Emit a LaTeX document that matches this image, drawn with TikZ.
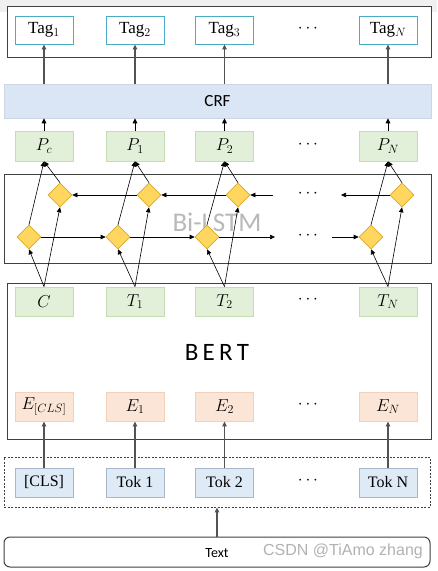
\documentclass[tikz,border=0pt]{standalone}
\usepackage{fontspec}
\setmainfont{Liberation Serif}
\newfontfamily\sansf{Carlito}
\newfontfamily\wmf{Liberation Sans}
\usetikzlibrary{arrows.meta,shapes.geometric}
\definecolor{tagbd}{HTML}{4BACC6}
\definecolor{crffill}{HTML}{DAE6F6}
\definecolor{grnfill}{HTML}{E2F0D9}
\definecolor{grnbd}{HTML}{C5DDB3}
\definecolor{redfill}{HTML}{FBE5D6}
\definecolor{redbd}{HTML}{F2D0BC}
\definecolor{tokfill}{HTML}{DEEBF7}
\definecolor{tokbd}{HTML}{A6B8CA}
\definecolor{dfill}{HTML}{FFD75E}
\definecolor{dbd}{HTML}{D9A82E}
\definecolor{frm}{HTML}{404040}
\begin{document}
\begin{tikzpicture}[x=1pt,y=-1pt,
  cell/.style={minimum width=58pt,inner sep=0pt,line width=0.8pt},
  tagbox/.style={cell,draw=tagbd,fill=white,minimum height=28pt,font=\fontsize{17}{17}\selectfont},
  pbox/.style={cell,draw=grnbd,fill=grnfill,minimum height=30pt,font=\fontsize{17}{17}\selectfont},
  tbox/.style={cell,draw=grnbd,fill=grnfill,minimum height=29pt,font=\fontsize{17}{17}\selectfont},
  ebox/.style={cell,draw=redbd,fill=redfill,minimum height=29pt,font=\fontsize{17}{17}\selectfont},
  tokbox/.style={cell,draw=tokbd,fill=tokfill,minimum height=29pt,font=\fontsize{16}{16}\selectfont},
  frame/.style={draw=frm,line width=1pt,inner sep=0pt},
  dia/.style={diamond,draw=dbd,fill=dfill,minimum width=24pt,minimum height=24pt,inner sep=0pt,line width=0.6pt},
  bigarr/.style={draw=frm!90,line width=1.3pt,-{Triangle[length=5pt,width=4.5pt]}},
  thinarr/.style={draw=black,line width=0.6pt,-{Triangle[length=5pt,width=4.5pt]}},
  dots/.style={font=\fontsize{16}{16}\selectfont}
]
\useasboundingbox (0,0) rectangle (437,571);
\fill[white] (0,0) rectangle (437,571);
\fill[gray!12] (0,0) rectangle (437,12);

% frames
\node[frame,fill=white,minimum width=424pt,minimum height=51pt] (topbox) at (219,31.5) {};
\node[fill=crffill,draw=crffill!85!gray,line width=0.5pt,inner sep=0pt,minimum width=427pt,minimum height=34pt,font=\sansf\fontsize{17}{17}\selectfont] (crf) at (217.5,101) {CRF};
\node[frame,minimum width=427pt,minimum height=89pt] (lstm) at (217.5,218.5) {};
\node[text=gray!55,font=\sansf\fontsize{27}{27}\selectfont] (lstmlab) at (217,222) {Bi-LSTM};
\node[frame,minimum width=424pt,minimum height=156pt] (bert) at (219,361) {};
\node[font=\sansf\fontsize{25}{25}\selectfont] (bertlab) at (217,352) {B\,E\,R\,T};
\node[draw=frm,dashed,dash pattern=on 2pt off 1.5pt,line width=0.9pt,inner sep=0pt,minimum width=426pt,minimum height=50pt] (emb) at (217,482) {};
\node[draw=frm,line width=1pt,rounded corners=6pt,inner sep=0pt,minimum width=426pt,minimum height=30pt] (textbox) at (217,552) {};
\node[font=\sansf\fontsize{14}{14}\selectfont] (textlab) at (217,553) {Text};
\node[text=gray!60,font=\wmf\fontsize{16}{16}\selectfont] (wm) at (343,551) {CSDN @TiAmo zhang};

% Tag row
\node[tagbox] (tag1) at (44,30) {Tag$_1$};
\node[tagbox] (tag2) at (135,30) {Tag$_2$};
\node[tagbox] (tag3) at (224.5,30) {Tag$_3$};
\node[tagbox] (tag4) at (388,30) {Tag$_N$};
\node[dots] (dt) at (308,29) {$\cdots$};

% P row
\node[pbox] (p1) at (44,146) {$P_c$};
\node[pbox] (p2) at (135,146) {$P_1$};
\node[pbox] (p3) at (224.5,146) {$P_2$};
\node[pbox] (p4) at (388,146) {$P_N$};
\node[dots] (dp) at (308,145) {$\cdots$};

% T row
\node[tbox] (t1) at (44,301.5) {$C$};
\node[tbox] (t2) at (135,301.5) {$T_1$};
\node[tbox] (t3) at (224.5,301.5) {$T_2$};
\node[tbox] (t4) at (388,301.5) {$T_N$};
\node[dots] (dtt) at (308,300) {$\cdots$};

% E row
\node[ebox] (e1) at (44,406.5) {$E_{[CLS]}$};
\node[ebox] (e2) at (135,406.5) {$E_1$};
\node[ebox] (e3) at (224.5,406.5) {$E_2$};
\node[ebox] (e4) at (388,406.5) {$E_N$};
\node[dots] (de) at (308,405) {$\cdots$};

% Tok row
\node[tokbox] (k1) at (44,482.5) {[CLS]};
\node[tokbox] (k2) at (135,482.5) {Tok 1};
\node[tokbox] (k3) at (224.5,482.5) {Tok 2};
\node[tokbox] (k4) at (388,482.5) {Tok N};
\node[dots] (dk) at (308,481) {$\cdots$};

% diamonds
\node[dia] (u1) at (60,195) {};
\node[dia] (u2) at (149,195) {};
\node[dia] (u3) at (238,195) {};
\node[dia] (u4) at (402,195) {};
\node[dia] (l1) at (29,237) {};
\node[dia] (l2) at (118,237) {};
\node[dia] (l3) at (207,237) {};
\node[dia] (l4) at (371,237) {};
\node[dots] (du) at (308,194) {$\cdots$};
\node[dots] (dl) at (308,236) {$\cdots$};
\coordinate (ua) at (273,195);
\coordinate (ub) at (341,195);
\coordinate (la) at (275,237);
\coordinate (lb) at (332,237);

% vertical arrows
\foreach \i in {1,2,3,4} {
  \draw[bigarr] (crf.north -| tag\i) -- (tag\i.south);
  \draw[thinarr,line width=0.9pt] (p\i.north) -- (crf.south -| p\i);
  \draw[bigarr] (k\i.north) -- (e\i.south);
  \draw[thinarr] (t\i.north) -- (l\i.south);
  \draw[thinarr] (t\i.north) -- (u\i.south);
  \draw[thinarr] (l\i.north) -- (p\i.south);
  \draw[thinarr] (u\i.north) -- (p\i.south);
}
% horizontal LSTM arrows
\draw[thinarr] (l1.east) -- (l2.west);
\draw[thinarr] (l2.east) -- (l3.west);
\draw[thinarr] (l3.east) -- (la);
\draw[thinarr] (lb) -- (l4.west);
\draw[thinarr] (u2.west) -- (u1.east);
\draw[thinarr] (u3.west) -- (u2.east);
\draw[thinarr] (ua) -- (u3.east);
\draw[thinarr] (u4.west) -- (ub);

% text -> embedding box
\draw[bigarr] (textbox.north) -- (emb.south);
\end{tikzpicture}
\end{document}
